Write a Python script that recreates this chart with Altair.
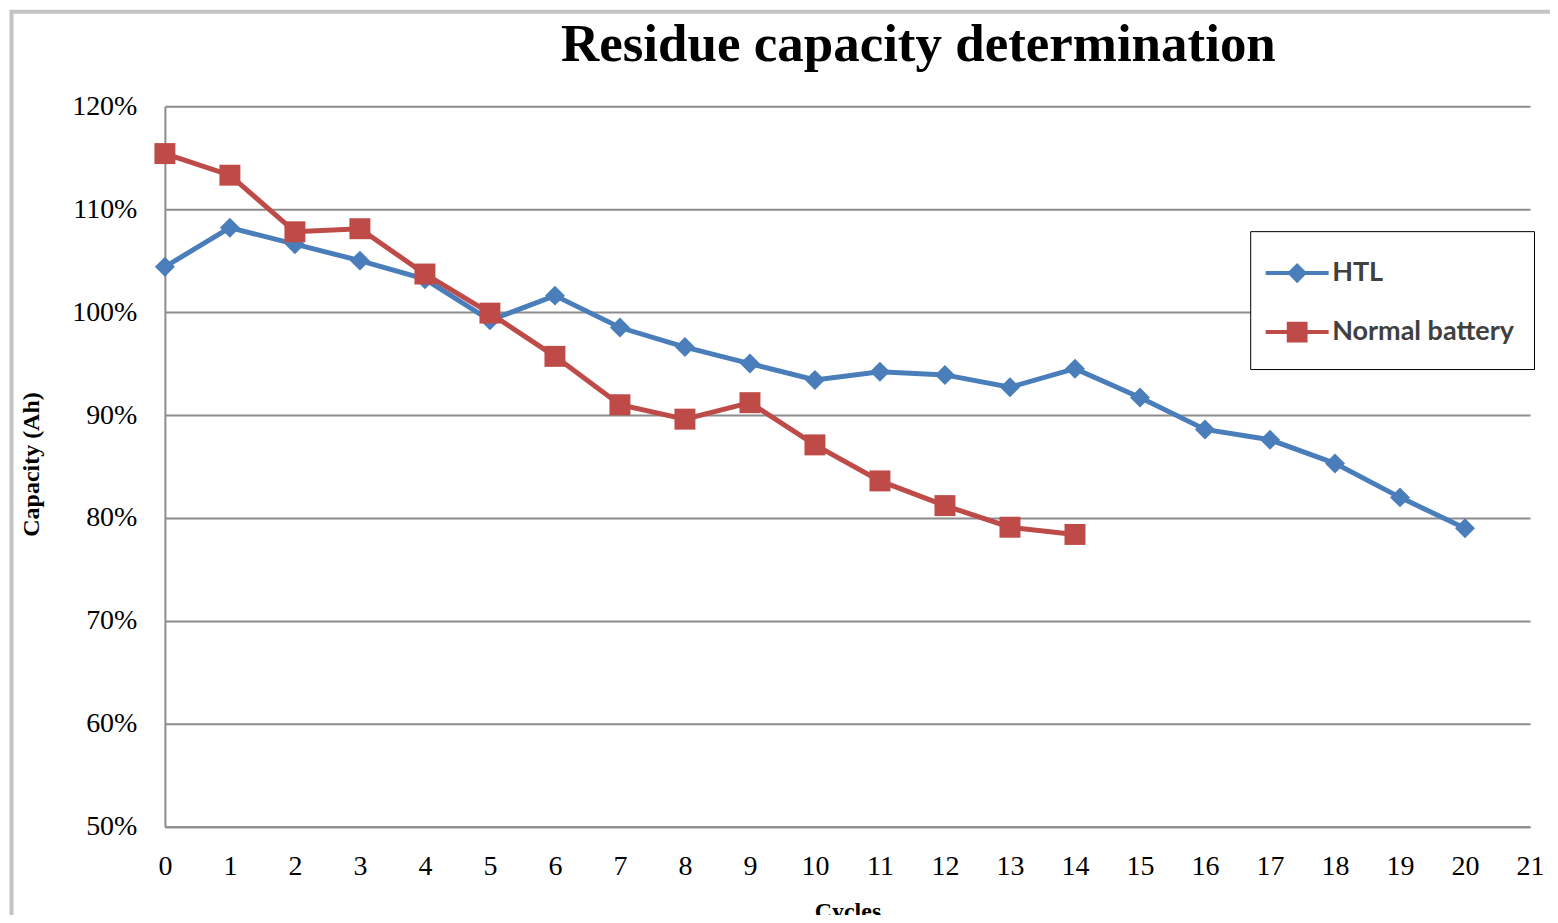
import altair as alt
import pandas as pd

# ---- data ----
CYCLES_HTL = list(range(0, 21))
HTL = [104.4, 108.2, 106.6, 105.0, 103.2, 99.2, 101.6, 98.5, 96.6, 95.0, 93.4,
       94.2, 93.9, 92.7, 94.5, 91.7, 88.6, 87.6, 85.3, 82.0, 79.0]
CYCLES_NORMAL = list(range(0, 15))
NORMAL = [115.4, 113.3, 107.8, 108.1, 103.7, 99.9, 95.7, 91.0, 89.6, 91.2, 87.1,
          83.6, 81.2, 79.1, 78.4]
SERIES = ["HTL", "Normal battery"]
COLORS = ["#4A7EBB", "#BE4B48"]
X_TICKS = list(range(0, 22))
Y_TICKS = [50, 60, 70, 80, 90, 100, 110, 120]

rows = [{"cycle": c, "value": v, "series": SERIES[0]} for c, v in zip(CYCLES_HTL, HTL)]
rows += [{"cycle": c, "value": v, "series": SERIES[1]} for c, v in zip(CYCLES_NORMAL, NORMAL)]
df = pd.DataFrame(rows)

# legend glyphs: a line with the marker in the middle
HTL_SYMBOL = "M-1.575,0H1.575M0,-0.36L0.36,0L0,0.36L-0.36,0Z"
NORMAL_SYMBOL = "M-1.575,0H1.575M-0.42,-0.42H0.42V0.42H-0.42Z"

x_enc = alt.X(
    "cycle:Q",
    scale=alt.Scale(domain=[0, 21], nice=False, zero=False),
    axis=alt.Axis(values=X_TICKS, title="Cycles", titleY=73, titleBaseline="top",
                  labelFlush=False),
)
y_enc = alt.Y(
    "value:Q",
    scale=alt.Scale(domain=[50, 120], nice=False, zero=False),
    axis=alt.Axis(values=Y_TICKS, labelExpr="datum.value + '%'", title="Capacity (Ah)",
                  titleX=-121, titleY=358, labelFlush=False),
)

base = alt.Chart(df)

htl_line = base.transform_filter(alt.datum.series == SERIES[0]).mark_line(
    color=COLORS[0], strokeWidth=5).encode(x=x_enc, y=y_enc)
htl_pts = base.transform_filter(alt.datum.series == SERIES[0]).mark_point(
    shape="diamond", filled=True, size=400, opacity=1, color=COLORS[0]).encode(x=x_enc, y=y_enc)
normal_line = base.transform_filter(alt.datum.series == SERIES[1]).mark_line(
    color=COLORS[1], strokeWidth=5).encode(x=x_enc, y=y_enc)
normal_pts = base.transform_filter(alt.datum.series == SERIES[1]).mark_point(
    shape="square", filled=True, size=440, opacity=1, color=COLORS[1]).encode(x=x_enc, y=y_enc)

legend_layer = base.transform_filter("false").mark_point(
    filled=True, opacity=1, strokeWidth=4).encode(
    x=x_enc, y=y_enc,
    fill=alt.Fill("series:N", scale=alt.Scale(domain=SERIES, range=COLORS), legend=alt.Legend(title=None)),
    stroke=alt.Stroke("series:N", scale=alt.Scale(domain=SERIES, range=COLORS), legend=alt.Legend(title=None)),
    shape=alt.Shape("series:N", scale=alt.Scale(domain=SERIES, range=[HTL_SYMBOL, NORMAL_SYMBOL]),
                    legend=alt.Legend(title=None)),
)

frame = alt.Chart(alt.Data(values=[{}])).mark_rect(
    filled=False, color="#c3c3c3", strokeWidth=4).encode(
    x=alt.value(-153.5), x2=alt.value(1700), y=alt.value(-94.5), y2=alt.value(1000))

chart = alt.layer(frame, htl_line, htl_pts, normal_line, normal_pts, legend_layer).properties(
    width=1366,
    height=721,
    padding={"left": 157, "top": 98, "right": 20, "bottom": 88},
    autosize=alt.AutoSizeParams(type="none"),
    title=alt.TitleParams(
        "Residue capacity determination",
        font="Liberation Serif", fontSize=53, fontWeight="bold", color="#000000",
        anchor="middle", frame="group", dx=71, baseline="alphabetic", offset=-104.5,
    ),
).configure_view(stroke="transparent").configure_axis(
    domainColor="#8c8c8c", domainWidth=2, gridColor="#8c8c8c", gridWidth=2, ticks=False,
    labelFont="Liberation Serif", labelFontSize=28, labelColor="#000000",
    titleFont="Liberation Serif", titleFontWeight="bold", titleFontSize=24, titleColor="#000000",
).configure_axisX(grid=False, labelPadding=26).configure_axisY(
    grid=True, labelPadding=28
).configure_legend(
    orient="none", legendX=1086, legendY=125, padding=20, strokeColor="#000000",
    fillColor="#ffffff", cornerRadius=0, labelFont="Lato", labelFontSize=27,
    labelFontWeight="bold", labelColor="#404040", labelLimit=400, symbolSize=1600,
    symbolStrokeWidth=4, rowPadding=21, labelOffset=13, symbolOffset=5,
)

chart.save("out.html", embed_options={"renderer": "svg", "actions": False})
